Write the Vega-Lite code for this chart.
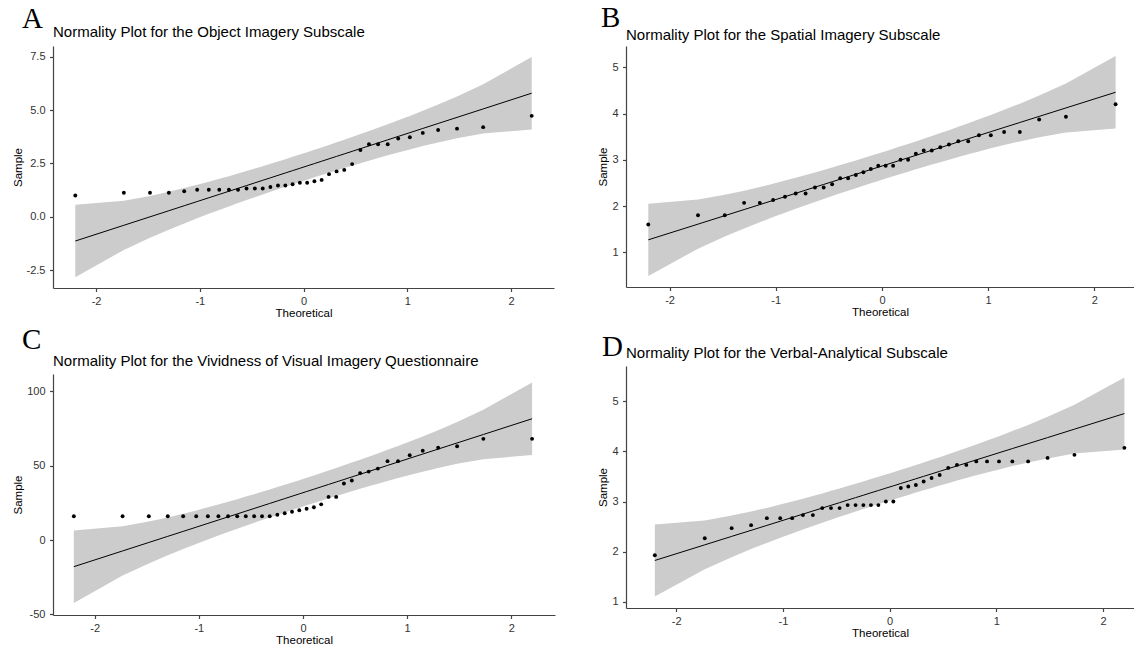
{
  "$schema": "https://vega.github.io/schema/vega-lite/v6.json",
  "background": "white",
  "padding": {"left": 12, "top": 4, "right": 0, "bottom": 0},
  "config": {
    "view": {"stroke": null},
    "axis": {"grid": false, "domainColor": "#444444", "domainWidth": 1.2, "tickColor": "#444444", "tickWidth": 1.2, "tickSize": 3.5, "labelFont": "Liberation Sans", "labelFontSize": 11, "labelColor": "#333333", "labelPadding": 4, "titleFont": "Liberation Sans", "titleFontSize": 11.5, "titleFontWeight": "normal", "titleColor": "black", "labelFlush": false, "labelOverlap": false},
    "axisX": {"titlePadding": 1},
    "axisY": {"titlePadding": 3, "labelPadding": 4.5},
    "title": {"anchor": "start", "frame": "group", "font": "Liberation Serif", "fontSize": 29, "fontWeight": "normal", "color": "black", "subtitleFont": "Liberation Sans", "subtitleFontSize": 15, "subtitleColor": "black"}
  },
  "datasets": {
    "a": [
      {"x":-2.2,"y":1.0,"fit":-1.131,"lo":-2.828,"hi":0.566},
      {"x":-1.732,"y":1.13,"fit":-0.394,"lo":-1.547,"hi":0.759},
      {"x":-1.48,"y":1.13,"fit":0.002,"lo":-0.976,"hi":0.98},
      {"x":-1.298,"y":1.13,"fit":0.288,"lo":-0.598,"hi":1.174},
      {"x":-1.15,"y":1.2,"fit":0.521,"lo":-0.305,"hi":1.347},
      {"x":-1.025,"y":1.27,"fit":0.718,"lo":-0.065,"hi":1.501},
      {"x":-0.913,"y":1.27,"fit":0.894,"lo":0.142,"hi":1.646},
      {"x":-0.812,"y":1.27,"fit":1.053,"lo":0.326,"hi":1.78},
      {"x":-0.719,"y":1.27,"fit":1.199,"lo":0.491,"hi":1.907},
      {"x":-0.631,"y":1.27,"fit":1.337,"lo":0.645,"hi":2.029},
      {"x":-0.549,"y":1.33,"fit":1.466,"lo":0.785,"hi":2.147},
      {"x":-0.469,"y":1.33,"fit":1.592,"lo":0.922,"hi":2.262},
      {"x":-0.393,"y":1.33,"fit":1.712,"lo":1.05,"hi":2.374},
      {"x":-0.319,"y":1.4,"fit":1.828,"lo":1.172,"hi":2.484},
      {"x":-0.246,"y":1.47,"fit":1.943,"lo":1.292,"hi":2.594},
      {"x":-0.175,"y":1.47,"fit":2.055,"lo":1.407,"hi":2.703},
      {"x":-0.105,"y":1.53,"fit":2.165,"lo":1.52,"hi":2.81},
      {"x":-0.035,"y":1.6,"fit":2.275,"lo":1.631,"hi":2.919},
      {"x":0.035,"y":1.6,"fit":2.385,"lo":1.741,"hi":3.029},
      {"x":0.105,"y":1.67,"fit":2.495,"lo":1.85,"hi":3.14},
      {"x":0.175,"y":1.73,"fit":2.605,"lo":1.957,"hi":3.253},
      {"x":0.246,"y":2.0,"fit":2.717,"lo":2.066,"hi":3.368},
      {"x":0.319,"y":2.13,"fit":2.832,"lo":2.176,"hi":3.488},
      {"x":0.393,"y":2.2,"fit":2.948,"lo":2.286,"hi":3.61},
      {"x":0.469,"y":2.47,"fit":3.068,"lo":2.398,"hi":3.738},
      {"x":0.549,"y":3.13,"fit":3.194,"lo":2.513,"hi":3.875},
      {"x":0.631,"y":3.4,"fit":3.323,"lo":2.631,"hi":4.015},
      {"x":0.719,"y":3.4,"fit":3.461,"lo":2.753,"hi":4.169},
      {"x":0.812,"y":3.4,"fit":3.607,"lo":2.88,"hi":4.334},
      {"x":0.913,"y":3.67,"fit":3.766,"lo":3.014,"hi":4.518},
      {"x":1.025,"y":3.73,"fit":3.942,"lo":3.159,"hi":4.725},
      {"x":1.15,"y":3.93,"fit":4.139,"lo":3.313,"hi":4.965},
      {"x":1.298,"y":4.07,"fit":4.372,"lo":3.486,"hi":5.258},
      {"x":1.48,"y":4.13,"fit":4.658,"lo":3.68,"hi":5.636},
      {"x":1.732,"y":4.2,"fit":5.054,"lo":3.901,"hi":6.207},
      {"x":2.2,"y":4.73,"fit":5.791,"lo":4.094,"hi":7.488}
    ],
    "b": [
      {"x":-2.2,"y":1.6,"fit":1.27,"lo":0.488,"hi":2.052},
      {"x":-1.732,"y":1.8,"fit":1.609,"lo":1.078,"hi":2.14},
      {"x":-1.48,"y":1.8,"fit":1.792,"lo":1.341,"hi":2.243},
      {"x":-1.298,"y":2.07,"fit":1.924,"lo":1.516,"hi":2.332},
      {"x":-1.15,"y":2.07,"fit":2.031,"lo":1.65,"hi":2.412},
      {"x":-1.025,"y":2.13,"fit":2.122,"lo":1.761,"hi":2.483},
      {"x":-0.913,"y":2.2,"fit":2.203,"lo":1.856,"hi":2.55},
      {"x":-0.812,"y":2.27,"fit":2.276,"lo":1.941,"hi":2.611},
      {"x":-0.719,"y":2.27,"fit":2.344,"lo":2.018,"hi":2.67},
      {"x":-0.631,"y":2.4,"fit":2.408,"lo":2.089,"hi":2.727},
      {"x":-0.549,"y":2.4,"fit":2.467,"lo":2.153,"hi":2.781},
      {"x":-0.469,"y":2.47,"fit":2.525,"lo":2.216,"hi":2.834},
      {"x":-0.393,"y":2.6,"fit":2.58,"lo":2.275,"hi":2.885},
      {"x":-0.319,"y":2.6,"fit":2.634,"lo":2.332,"hi":2.936},
      {"x":-0.246,"y":2.67,"fit":2.687,"lo":2.387,"hi":2.987},
      {"x":-0.175,"y":2.73,"fit":2.738,"lo":2.439,"hi":3.037},
      {"x":-0.105,"y":2.8,"fit":2.789,"lo":2.492,"hi":3.086},
      {"x":-0.035,"y":2.87,"fit":2.84,"lo":2.543,"hi":3.137},
      {"x":0.035,"y":2.87,"fit":2.89,"lo":2.593,"hi":3.187},
      {"x":0.105,"y":2.87,"fit":2.941,"lo":2.644,"hi":3.238},
      {"x":0.175,"y":3.0,"fit":2.992,"lo":2.693,"hi":3.291},
      {"x":0.246,"y":3.0,"fit":3.043,"lo":2.743,"hi":3.343},
      {"x":0.319,"y":3.13,"fit":3.096,"lo":2.794,"hi":3.398},
      {"x":0.393,"y":3.2,"fit":3.15,"lo":2.845,"hi":3.455},
      {"x":0.469,"y":3.2,"fit":3.205,"lo":2.896,"hi":3.514},
      {"x":0.549,"y":3.27,"fit":3.263,"lo":2.949,"hi":3.577},
      {"x":0.631,"y":3.33,"fit":3.322,"lo":3.003,"hi":3.641},
      {"x":0.719,"y":3.4,"fit":3.386,"lo":3.06,"hi":3.712},
      {"x":0.812,"y":3.4,"fit":3.454,"lo":3.119,"hi":3.789},
      {"x":0.913,"y":3.53,"fit":3.527,"lo":3.18,"hi":3.874},
      {"x":1.025,"y":3.53,"fit":3.608,"lo":3.247,"hi":3.969},
      {"x":1.15,"y":3.6,"fit":3.699,"lo":3.318,"hi":4.08},
      {"x":1.298,"y":3.6,"fit":3.806,"lo":3.398,"hi":4.214},
      {"x":1.48,"y":3.87,"fit":3.938,"lo":3.487,"hi":4.389},
      {"x":1.732,"y":3.93,"fit":4.121,"lo":3.59,"hi":4.652},
      {"x":2.2,"y":4.2,"fit":4.46,"lo":3.678,"hi":5.242}
    ],
    "c": [
      {"x":-2.2,"y":16,"fit":-17.92,"lo":-42.31,"hi":6.47},
      {"x":-1.732,"y":16,"fit":-7.34,"lo":-23.91,"hi":9.23},
      {"x":-1.48,"y":16,"fit":-1.65,"lo":-15.71,"hi":12.41},
      {"x":-1.298,"y":16,"fit":2.47,"lo":-10.25,"hi":15.19},
      {"x":-1.15,"y":16,"fit":5.81,"lo":-6.06,"hi":17.68},
      {"x":-1.025,"y":16,"fit":8.63,"lo":-2.62,"hi":19.88},
      {"x":-0.913,"y":16,"fit":11.17,"lo":0.37,"hi":21.97},
      {"x":-0.812,"y":16,"fit":13.45,"lo":3.0,"hi":23.9},
      {"x":-0.719,"y":16,"fit":15.55,"lo":5.38,"hi":25.72},
      {"x":-0.631,"y":16,"fit":17.54,"lo":7.6,"hi":27.48},
      {"x":-0.549,"y":16,"fit":19.39,"lo":9.6,"hi":29.18},
      {"x":-0.469,"y":16,"fit":21.2,"lo":11.57,"hi":30.83},
      {"x":-0.393,"y":16,"fit":22.92,"lo":13.41,"hi":32.43},
      {"x":-0.319,"y":16,"fit":24.59,"lo":15.17,"hi":34.01},
      {"x":-0.246,"y":17,"fit":26.24,"lo":16.88,"hi":35.6},
      {"x":-0.175,"y":18,"fit":27.84,"lo":18.53,"hi":37.15},
      {"x":-0.105,"y":19,"fit":29.43,"lo":20.16,"hi":38.7},
      {"x":-0.035,"y":20,"fit":31.01,"lo":21.76,"hi":40.26},
      {"x":0.035,"y":21,"fit":32.59,"lo":23.34,"hi":41.84},
      {"x":0.105,"y":22,"fit":34.17,"lo":24.9,"hi":43.44},
      {"x":0.175,"y":24,"fit":35.76,"lo":26.45,"hi":45.07},
      {"x":0.246,"y":29,"fit":37.36,"lo":28.0,"hi":46.72},
      {"x":0.319,"y":29,"fit":39.01,"lo":29.59,"hi":48.43},
      {"x":0.393,"y":38,"fit":40.68,"lo":31.17,"hi":50.19},
      {"x":0.469,"y":40,"fit":42.4,"lo":32.77,"hi":52.03},
      {"x":0.549,"y":45,"fit":44.21,"lo":34.42,"hi":54.0},
      {"x":0.631,"y":46,"fit":46.06,"lo":36.12,"hi":56.0},
      {"x":0.719,"y":48,"fit":48.05,"lo":37.88,"hi":58.22},
      {"x":0.812,"y":53,"fit":50.15,"lo":39.7,"hi":60.6},
      {"x":0.913,"y":53,"fit":52.43,"lo":41.63,"hi":63.23},
      {"x":1.025,"y":57,"fit":54.97,"lo":43.72,"hi":66.22},
      {"x":1.15,"y":60,"fit":57.79,"lo":45.92,"hi":69.66},
      {"x":1.298,"y":62,"fit":61.13,"lo":48.41,"hi":73.85},
      {"x":1.48,"y":63,"fit":65.25,"lo":51.19,"hi":79.31},
      {"x":1.732,"y":68,"fit":70.94,"lo":54.37,"hi":87.51},
      {"x":2.2,"y":68,"fit":81.52,"lo":57.13,"hi":105.91}
    ],
    "d": [
      {"x":-2.2,"y":1.93,"fit":1.827,"lo":1.109,"hi":2.545},
      {"x":-1.732,"y":2.27,"fit":2.138,"lo":1.651,"hi":2.625},
      {"x":-1.48,"y":2.47,"fit":2.306,"lo":1.892,"hi":2.72},
      {"x":-1.298,"y":2.53,"fit":2.427,"lo":2.053,"hi":2.801},
      {"x":-1.15,"y":2.67,"fit":2.525,"lo":2.176,"hi":2.874},
      {"x":-1.025,"y":2.67,"fit":2.608,"lo":2.277,"hi":2.939},
      {"x":-0.913,"y":2.67,"fit":2.683,"lo":2.365,"hi":3.001},
      {"x":-0.812,"y":2.73,"fit":2.75,"lo":2.442,"hi":3.058},
      {"x":-0.719,"y":2.73,"fit":2.812,"lo":2.513,"hi":3.111},
      {"x":-0.631,"y":2.87,"fit":2.87,"lo":2.577,"hi":3.163},
      {"x":-0.549,"y":2.87,"fit":2.925,"lo":2.637,"hi":3.213},
      {"x":-0.469,"y":2.87,"fit":2.978,"lo":2.695,"hi":3.261},
      {"x":-0.393,"y":2.93,"fit":3.029,"lo":2.749,"hi":3.309},
      {"x":-0.319,"y":2.93,"fit":3.078,"lo":2.801,"hi":3.355},
      {"x":-0.246,"y":2.93,"fit":3.126,"lo":2.851,"hi":3.401},
      {"x":-0.175,"y":2.93,"fit":3.174,"lo":2.9,"hi":3.448},
      {"x":-0.105,"y":2.93,"fit":3.22,"lo":2.947,"hi":3.493},
      {"x":-0.035,"y":3.0,"fit":3.267,"lo":2.995,"hi":3.539},
      {"x":0.035,"y":3.0,"fit":3.313,"lo":3.041,"hi":3.585},
      {"x":0.105,"y":3.27,"fit":3.36,"lo":3.087,"hi":3.633},
      {"x":0.175,"y":3.3,"fit":3.406,"lo":3.132,"hi":3.68},
      {"x":0.246,"y":3.33,"fit":3.454,"lo":3.179,"hi":3.729},
      {"x":0.319,"y":3.4,"fit":3.502,"lo":3.225,"hi":3.779},
      {"x":0.393,"y":3.47,"fit":3.551,"lo":3.271,"hi":3.831},
      {"x":0.469,"y":3.53,"fit":3.602,"lo":3.319,"hi":3.885},
      {"x":0.549,"y":3.67,"fit":3.655,"lo":3.367,"hi":3.943},
      {"x":0.631,"y":3.73,"fit":3.71,"lo":3.417,"hi":4.003},
      {"x":0.719,"y":3.73,"fit":3.768,"lo":3.469,"hi":4.067},
      {"x":0.812,"y":3.8,"fit":3.83,"lo":3.522,"hi":4.138},
      {"x":0.913,"y":3.8,"fit":3.897,"lo":3.579,"hi":4.215},
      {"x":1.025,"y":3.8,"fit":3.972,"lo":3.641,"hi":4.303},
      {"x":1.15,"y":3.8,"fit":4.055,"lo":3.706,"hi":4.404},
      {"x":1.298,"y":3.8,"fit":4.153,"lo":3.779,"hi":4.527},
      {"x":1.48,"y":3.87,"fit":4.274,"lo":3.86,"hi":4.688},
      {"x":1.732,"y":3.93,"fit":4.442,"lo":3.955,"hi":4.929},
      {"x":2.2,"y":4.07,"fit":4.753,"lo":4.035,"hi":5.471}
    ]
  },
  "spacing": 42,
  "hconcat": [
    {
      "spacing": 7,
      "vconcat": [
        {
          "width": 501, "height": 242,
          "data": {"name": "a"},
          "title": {"text": "A", "subtitle": "Normality Plot for the Object Imagery Subscale", "subtitlePadding": -9, "offset": 6, "encoding": {"dx": {"value": -31}}},
          "encoding": {"x": {"field": "x", "type": "quantitative", "title": "Theoretical", "scale": {"domain": [-2.415, 2.415], "nice": false, "zero": false}, "axis": {"values": [-2, -1, 0, 1, 2], "labelExpr": "datum.value < 0 ? '-' + abs(datum.value) : '' + datum.value"}}},
          "layer": [
            {"mark": {"type": "area", "color": "#cccccc"}, "encoding": {"y": {"field": "lo", "type": "quantitative", "title": "Sample", "scale": {"domain": [-3.33, 8.0], "nice": false, "zero": false}, "axis": {"values": [-2.5, 0, 2.5, 5, 7.5], "labelExpr": "datum.value < 0 ? '-' + format(abs(datum.value), '.1f') : format(datum.value, '.1f')"}}, "y2": {"field": "hi"}}},
            {"mark": {"type": "line", "color": "black", "strokeWidth": 1}, "encoding": {"y": {"field": "fit", "type": "quantitative", "title": "Sample"}}},
            {"mark": {"type": "circle", "color": "black", "size": 15, "opacity": 1}, "encoding": {"y": {"field": "y", "type": "quantitative", "title": "Sample"}}}
          ]
        },
        {
          "width": 502, "height": 241,
          "data": {"name": "c"},
          "title": {"text": "C", "subtitle": "Normality Plot for the Vividness of Visual Imagery Questionnaire", "subtitlePadding": -1, "offset": 5, "encoding": {"dx": {"value": -31}}},
          "encoding": {"x": {"field": "x", "type": "quantitative", "title": "Theoretical", "scale": {"domain": [-2.4, 2.42], "nice": false, "zero": false}, "axis": {"values": [-2, -1, 0, 1, 2], "labelExpr": "datum.value < 0 ? '-' + abs(datum.value) : '' + datum.value"}}},
          "layer": [
            {"mark": {"type": "area", "color": "#cccccc"}, "encoding": {"y": {"field": "lo", "type": "quantitative", "title": "Sample", "scale": {"domain": [-50.4, 111.6], "nice": false, "zero": false}, "axis": {"values": [-50, 0, 50, 100], "labelExpr": "datum.value < 0 ? '-' + abs(datum.value) : '' + datum.value"}}, "y2": {"field": "hi"}}},
            {"mark": {"type": "line", "color": "black", "strokeWidth": 1}, "encoding": {"y": {"field": "fit", "type": "quantitative", "title": "Sample"}}},
            {"mark": {"type": "circle", "color": "black", "size": 15, "opacity": 1}, "encoding": {"y": {"field": "y", "type": "quantitative", "title": "Sample"}}}
          ]
        }
      ]
    },
    {
      "spacing": 15,
      "vconcat": [
        {
          "width": 508, "height": 241,
          "data": {"name": "b"},
          "title": {"text": "B", "subtitle": "Normality Plot for the Spatial Imagery Subscale", "subtitlePadding": -5, "offset": 3, "encoding": {"dx": {"value": -25}}},
          "encoding": {"x": {"field": "x", "type": "quantitative", "title": "Theoretical", "scale": {"domain": [-2.41, 2.373], "nice": false, "zero": false}, "axis": {"values": [-2, -1, 0, 1, 2], "labelExpr": "datum.value < 0 ? '-' + abs(datum.value) : '' + datum.value"}}},
          "layer": [
            {"mark": {"type": "area", "color": "#cccccc"}, "encoding": {"y": {"field": "lo", "type": "quantitative", "title": "Sample", "scale": {"domain": [0.25, 5.46], "nice": false, "zero": false}, "axis": {"values": [1, 2, 3, 4, 5], "format": "d"}}, "y2": {"field": "hi"}}},
            {"mark": {"type": "line", "color": "black", "strokeWidth": 1}, "encoding": {"y": {"field": "fit", "type": "quantitative", "title": "Sample"}}},
            {"mark": {"type": "circle", "color": "black", "size": 15, "opacity": 1}, "encoding": {"y": {"field": "y", "type": "quantitative", "title": "Sample"}}}
          ]
        },
        {
          "width": 508, "height": 242,
          "data": {"name": "d"},
          "title": {"text": "D", "subtitle": "Normality Plot for the Verbal-Analytical Subscale", "subtitlePadding": -16, "offset": 4, "encoding": {"dx": {"value": -24}}},
          "encoding": {"x": {"field": "x", "type": "quantitative", "title": "Theoretical", "scale": {"domain": [-2.47, 2.29], "nice": false, "zero": false}, "axis": {"values": [-2, -1, 0, 1, 2], "labelExpr": "datum.value < 0 ? '-' + abs(datum.value) : '' + datum.value"}}},
          "layer": [
            {"mark": {"type": "area", "color": "#cccccc"}, "encoding": {"y": {"field": "lo", "type": "quantitative", "title": "Sample", "scale": {"domain": [0.88, 5.7], "nice": false, "zero": false}, "axis": {"values": [1, 2, 3, 4, 5], "format": "d"}}, "y2": {"field": "hi"}}},
            {"mark": {"type": "line", "color": "black", "strokeWidth": 1}, "encoding": {"y": {"field": "fit", "type": "quantitative", "title": "Sample"}}},
            {"mark": {"type": "circle", "color": "black", "size": 15, "opacity": 1}, "encoding": {"y": {"field": "y", "type": "quantitative", "title": "Sample"}}}
          ]
        }
      ]
    }
  ]
}
